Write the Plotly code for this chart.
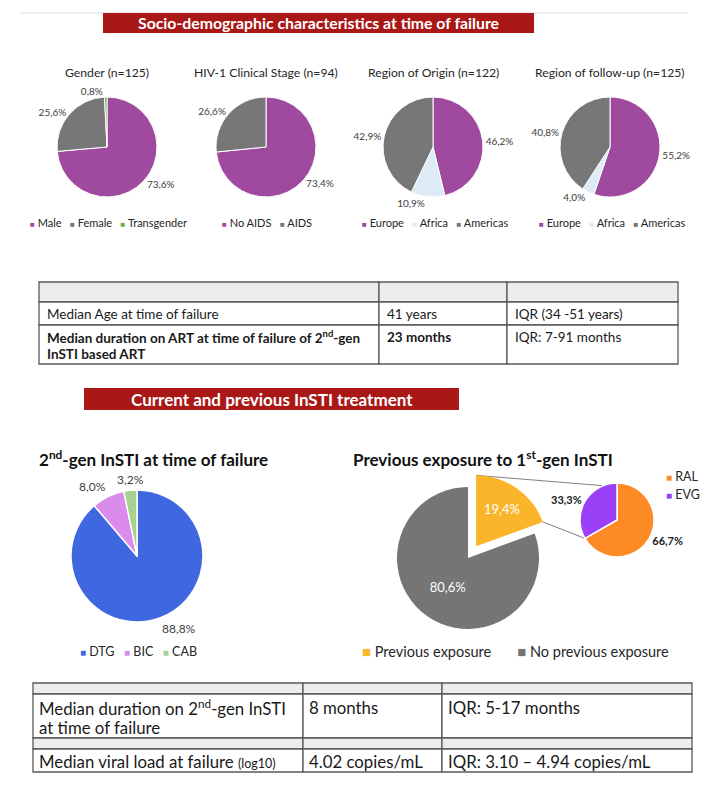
import math
import plotly.graph_objects as go

W, H = 713, 788

# ---------------- data ----------------
gender_labels = ["Male", "Female", "Transgender"]
gender_values = [73.6, 25.6, 0.8]
stage_labels = ["No AIDS", "AIDS"]
stage_values = [73.4, 26.6]
origin_labels = ["Europe", "Africa", "Americas"]
origin_values = [46.2, 10.9, 42.9]
followup_labels = ["Europe", "Africa", "Americas"]
followup_values = [55.2, 4.0, 40.8]

insti_labels = ["DTG", "BIC", "CAB"]
insti_values = [88.8, 8.0, 3.2]
exposure_labels = ["Previous exposure", "No previous exposure"]
exposure_values = [19.4, 80.6]
first_gen_labels = ["RAL", "EVG"]
first_gen_values = [66.7, 33.3]

top_titles = ["Gender (n=125)", "HIV-1 Clinical Stage (n=94)",
              "Region of Origin (n=122)", "Region of follow-up (n=125)"]

table1_rows = [
    [["Median Age at time of failure"], ["41 years"], ["IQR (34 -51 years)"]],
    [["<b>Median duration on ART at time of failure of 2<sup>nd</sup>-gen</b>", "<b>InSTI based ART</b>"],
     ["<b>23 months</b>"], ["IQR: 7-91 months"]],
]
table2_rows = [
    [["Median duration on 2<sup>nd</sup>-gen InSTI", "at time of failure"], ["8 months"], ["IQR: 5-17 months"]],
    [["Median viral load at failure <span style='font-size:12.5px'>(log10)</span>"],
     ["4.02 copies/mL"], ["IQR: 3.10 \u2013 4.94 copies/mL"]],
]

# ---------------- style ----------------
PURPLE = "#9F4A9F"
GRAY = "#777777"
GREEN = "#70AD47"
LBLUE = "#DDEBF7"
gender_colors = [PURPLE, GRAY, GREEN]
stage_colors = [PURPLE, GRAY]
region_colors = [PURPLE, LBLUE, GRAY]
insti_colors = ["#3F67E0", "#DA8BEB", "#A9D18E"]
exposure_colors = ["#FAB52B", "#757575"]
first_gen_colors = ["#FD8A24", "#9B40F7"]
RED = "#A91717"
FONT = "Lato"
TXT = "#262626"


def X(px):
    return px / W


def Y(py):
    return 1 - py / H


def fmt(v):
    return f"{v:.1f}".replace(".", ",") + "%"


def domain(cx, cy, r, pull=0.0):
    h = r * (1 + pull)
    return dict(x=[X(cx - h), X(cx + h)], y=[Y(cy + h), Y(cy - h)])


def on_circle(cx, cy, r, ang):
    return cx + r * math.sin(math.radians(ang)), cy - r * math.cos(math.radians(ang))


fig = go.Figure()
shapes = []
ann = []

# top row pies
top_specs = [
    (gender_labels, gender_values, gender_colors, 107),
    (stage_labels, stage_values, stage_colors, 266),
    (origin_labels, origin_values, region_colors, 433),
    (followup_labels, followup_values, region_colors, 610),
]
TOP_CY, TOP_R = 147, 50
for labels, vals, cols, cx in top_specs:
    fig.add_trace(go.Pie(
        labels=labels, values=vals, text=[fmt(v) for v in vals],
        textinfo="text", textposition="outside",
        textfont=dict(family=FONT, size=10, color="#404040"),
        marker=dict(colors=cols, line=dict(color="white", width=1)),
        sort=False, direction="clockwise", rotation=0,
        domain=domain(cx, TOP_CY, TOP_R), showlegend=False, hoverinfo="label+text",
    ))

# bottom-left pie (labels placed from slice mid-angles)
BL_CX, BL_CY, BL_R = 137, 556, 66
fig.add_trace(go.Pie(
    labels=insti_labels, values=insti_values, text=[fmt(v) for v in insti_values],
    textinfo="none",
    marker=dict(colors=insti_colors, line=dict(color="white", width=1.5)),
    sort=False, direction="clockwise", rotation=0,
    domain=domain(BL_CX, BL_CY, BL_R), showlegend=False, hoverinfo="label+text",
))
cum = 0.0
tot_i = sum(insti_values)
for v in insti_values:
    mid = (cum + v / 2) / tot_i * 360
    cum += v
    dx, dy = math.sin(math.radians(mid)), -math.cos(math.radians(mid))
    px, py = on_circle(BL_CX, BL_CY, BL_R + 1, mid)
    xa = "right" if dx < -0.3 else ("left" if dx > 0.3 else "center")
    ya = "bottom" if dy < -0.3 else ("top" if dy > 0.3 else "middle")
    ann.append(dict(x=X(px), y=Y(py), text=fmt(v), showarrow=False, xanchor=xa, yanchor=ya,
                    font=dict(family=FONT, size=12, color="#404040")))

# bottom-right exploded pie
PULL = 0.2
M_CX, M_CY, M_R = 468, 558, 71
fig.add_trace(go.Pie(
    labels=exposure_labels, values=exposure_values, text=[fmt(v) for v in exposure_values],
    textinfo="text", textposition="inside", insidetextorientation="horizontal",
    textfont=dict(family=FONT, size=13, color="white"),
    marker=dict(colors=exposure_colors, line=dict(color="white", width=0)),
    pull=[PULL, 0], sort=False, direction="clockwise", rotation=0,
    domain=domain(M_CX, M_CY, M_R, PULL), showlegend=False,
))

S_CX, S_CY, S_R = 617, 520, 37
fig.add_trace(go.Pie(
    labels=first_gen_labels, values=first_gen_values, text=[fmt(v) for v in first_gen_values],
    textinfo="text", textposition="outside", texttemplate="<b>%{text}</b>",
    textfont=dict(family=FONT, size=11, color="#1a1a1a"),
    marker=dict(colors=first_gen_colors, line=dict(color="white", width=1.5)),
    sort=False, direction="clockwise", rotation=0,
    domain=domain(S_CX, S_CY, S_R), showlegend=False,
))

# connectors between exploded slice and secondary pie
tot = sum(exposure_values)
a_end = exposure_values[0] / tot * 360
a_mid = a_end / 2
pcx = M_CX + PULL * M_R * math.sin(math.radians(a_mid))
pcy = M_CY - PULL * M_R * math.cos(math.radians(a_mid))
evg_start = first_gen_values[0] / sum(first_gen_values) * 360
for a_from, a_to in [(0, -22), (a_end, evg_start)]:
    x0, y0 = on_circle(pcx, pcy, M_R, a_from)
    x1, y1 = on_circle(S_CX, S_CY, S_R, a_to)
    shapes.append(dict(type="line", xref="paper", yref="paper", x0=X(x0), y0=Y(y0),
                       x1=X(x1), y1=Y(y1), line=dict(color="#808080", width=1), layer="below"))

# top rule and banners
shapes.append(dict(type="line", xref="paper", yref="paper", x0=X(20), x1=X(688), y0=Y(13), y1=Y(13),
                   line=dict(color="#D9D9D9", width=1)))
for (x0, x1, y0, y1, txt, fs) in [(103, 534, 13, 33, "Socio-demographic characteristics at time of failure", 15.8),
                                  (84, 459, 388, 410, "Current and previous InSTI treatment", 17)]:
    shapes.append(dict(type="rect", xref="paper", yref="paper", x0=X(x0), x1=X(x1), y0=Y(y1), y1=Y(y0),
                       fillcolor=RED, line=dict(width=0)))
    ann.append(dict(x=X((x0 + x1) / 2), y=Y((y0 + y1) / 2), text=f"<b>{txt}</b>", showarrow=False,
                    xanchor="center", yanchor="middle", font=dict(family=FONT, size=fs, color="white")))

# top titles
for t, (_, _, _, cx) in zip(top_titles, top_specs):
    ann.append(dict(x=X(cx), y=Y(72), text=t, showarrow=False, xanchor="center", yanchor="middle",
                    font=dict(family=FONT, size=12.2, color=TXT)))


def legend_text(labels, colors, gap, sq_size):
    parts = [f"<span style='color:{c};font-size:{sq_size}px'>\u25A0</span> {l}" for l, c in zip(labels, colors)]
    return gap.join(parts)


for labels, cols, cx in [(gender_labels, gender_colors, 108), (stage_labels, stage_colors, 267),
                         (origin_labels, region_colors, 435), (followup_labels, region_colors, 612)]:
    ann.append(dict(x=X(cx), y=Y(223), text=legend_text(labels, cols, "&nbsp;&nbsp;&nbsp;", 8),
                    showarrow=False, xanchor="center", yanchor="middle",
                    font=dict(family=FONT, size=11, color=TXT)))

ann.append(dict(x=X(138), y=Y(651), text=legend_text(insti_labels, insti_colors, "&nbsp;&nbsp;&nbsp;", 10),
                showarrow=False, xanchor="center", yanchor="middle", font=dict(family=FONT, size=12.5, color=TXT)))
ann.append(dict(x=X(515), y=Y(651),
                text=legend_text(exposure_labels, exposure_colors, "&nbsp;&nbsp;&nbsp;&nbsp;&nbsp;&nbsp;&nbsp;", 15),
                showarrow=False, xanchor="center", yanchor="middle", font=dict(family=FONT, size=14.5, color=TXT)))
for i, (l, c) in enumerate(zip(first_gen_labels, first_gen_colors)):
    ann.append(dict(x=X(664), y=Y(477 + 17 * i), text=f"<span style='color:{c};font-size:10px'>\u25A0</span> {l}",
                    showarrow=False, xanchor="left", yanchor="middle", font=dict(family=FONT, size=12.5, color=TXT)))

# bottom titles
ann.append(dict(x=X(37), y=Y(458), text="<b>2<sup>nd</sup>-gen InSTI at time of failure</b>", showarrow=False,
                xanchor="left", yanchor="middle", font=dict(family=FONT, size=17, color="#111111")))
ann.append(dict(x=X(351), y=Y(458), text="<b>Previous exposure to 1<sup>st</sup>-gen InSTI</b>", showarrow=False,
                xanchor="left", yanchor="middle", font=dict(family=FONT, size=17, color="#111111")))


# tables
def draw_table(cols_x, rows_y, gray_rows, lc):
    for i in range(len(rows_y) - 1):
        for j in range(len(cols_x) - 1):
            shapes.append(dict(type="rect", xref="paper", yref="paper",
                               x0=X(cols_x[j]), x1=X(cols_x[j + 1]), y0=Y(rows_y[i + 1]), y1=Y(rows_y[i]),
                               fillcolor="#EDEDED" if i in gray_rows else "white",
                               line=dict(color=lc, width=1.3), layer="below"))


def fill_table(rows, cols_x, first_line_y, line_h, pad, fs):
    for r, row in enumerate(rows):
        for j, cell in enumerate(row):
            for k, line in enumerate(cell):
                ann.append(dict(x=X(cols_x[j] + pad), y=Y(first_line_y[r] + k * line_h), text=line,
                                showarrow=False, xanchor="left", yanchor="middle", align="left",
                                font=dict(family=FONT, size=fs, color="#1a1a1a")))


T1_COLS = [39, 379, 507, 678]
T1_ROWS = [282, 302, 325, 364]
draw_table(T1_COLS, T1_ROWS, [0], "#5A5A5A")
fill_table(table1_rows, T1_COLS, [314, 337], 17, 6, 13.5)

T2_COLS = [33, 303, 442, 692]
T2_ROWS = [683, 694, 738, 749, 772]
draw_table(T2_COLS, T2_ROWS, [0, 2], "#5A5A5A")
fill_table(table2_rows, T2_COLS, [707, 761], 20, 4, 16.8)

fig.update_layout(
    width=W, height=H, margin=dict(l=0, r=0, t=0, b=0),
    paper_bgcolor="white", plot_bgcolor="white",
    shapes=shapes, annotations=ann, showlegend=False,
    font=dict(family=FONT),
)
fig.write_html("out.html", config={"displayModeBar": False},
               post_script="document.body.style.margin='0';document.body.style.overflow='hidden';")
